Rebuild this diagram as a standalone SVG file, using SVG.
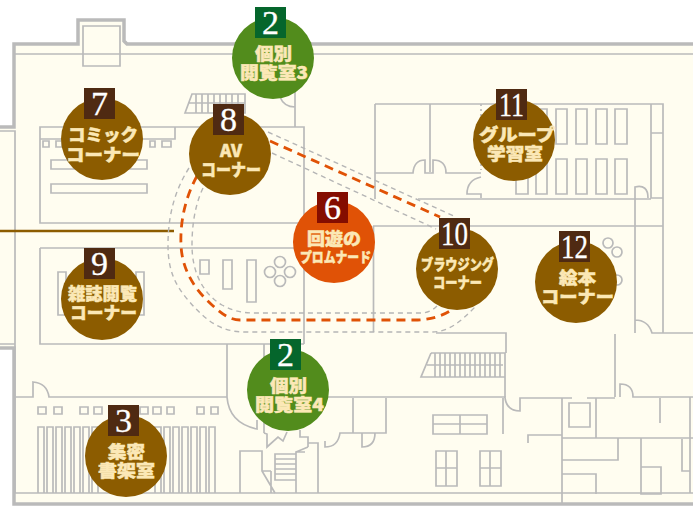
<svg xmlns="http://www.w3.org/2000/svg" width="693" height="507" viewBox="0 0 693 507">
<defs><style>
.w{fill:none;stroke:#bababa;stroke-width:1.7}
.t{fill:none;stroke:#bababa;stroke-width:3.5}
.g{fill:none;stroke:#b5b5b5;stroke-width:1.4;stroke-dasharray:5 4}
.o{fill:none;stroke:#e05206;stroke-width:2.8;stroke-dasharray:9 6}
.l{font-family:"Noto Sans CJK JP","Noto Sans",sans-serif;font-weight:900;font-size:17px;fill:#fbe8b6;stroke:#fbe8b6;stroke-width:.5}
.n{font-family:"Liberation Serif",serif;font-size:34px;fill:#fff;stroke:#fff;stroke-width:.3;text-anchor:middle}
.b{fill:#8c5c00}.bb{fill:#4f2a12}
.gr{fill:#528c1c}.gb{fill:#05662c}
.or{fill:#e05206}.ob{fill:#840d00}
</style></defs>
<rect width="693" height="507" fill="#fff"/>
<path d="M0 127H14V44H78V20H124V44H693V505H14V347H0Z" fill="#fffdf0"/>
<g id="plan">
<path class="t" d="M0 127H14V44H78V20H124V41L127 44H693M693 504H14V348H0"/>
<path class="w" d="M0 131H15V344H0M15 54H693M15 344V493H693M83 26H120V66H83Z"/>
<path class="w" d="M40 127H304V223H40ZM40 139H175V127M295 54V127M295 94V107Q284 107 280 97"/>
<path class="w" d="M43 141h6v6h-6zM56 141h6v6h-6zM150 141h5v6h-5zM162 141h9v6h-9zM51 160h96v9H51zM51 184h96v9H51z"/>
<path class="w" d="M185 113L192 94H245V113H185ZM188 103H245M196 94V113M202 94V113M208 94V113M214 94V113M220 94V113M226 94V113M232 94V113M238 94V113"/>
<path class="w" d="M375 104H663V333M375 104V199M430 104V172M375 173H413Q414 160 425 160V173H433V160Q446 160 446 173H481M481 177Q467 180 467 194H481V198M418 199H651M635 199V187Q648 184 648 198M651 104V198H663M651 133H663"/>
<path class="w" d="M516 109h12v35h-12zM536 109h11v35h-11zM556 109h11v35h-11zM576 109h11v35h-11zM596 109h11v35h-11zM615 109h12v35h-12zM516 159h12v35h-12zM536 159h11v35h-11zM556 159h11v35h-11zM576 159h11v35h-11zM596 159h11v35h-11zM615 159h12v35h-12z"/>
<path class="w" stroke-dasharray="2 3" d="M481 104V170"/>
<path class="w" d="M373 226H663M373.500 226V332M635 199V333M635 333V320Q648 320 652 333H693M615 334V397M620 397V384Q633 384 633 397H693"/>
<path class="w" d="M40 248H304M304 223V331M40 248V344H304M304 331V344M58 272h8v43h-8zM136 272h8v43h-8z"/>
<path class="w" d="M200 260h9v14h-9zM223 260h9v29h-9zM247 260h9v42h-9z"/>
<g class="w"><circle cx="280" cy="262" r="5.500"/><circle cx="270" cy="272" r="5.500"/><circle cx="290" cy="272" r="5.500"/><circle cx="280" cy="281" r="5.500"/><circle cx="608" cy="243" r="5"/><circle cx="617" cy="252" r="5"/><circle cx="617" cy="280" r="5"/></g>
<path class="w" d="M436 333H506V353M431 353H505V377H421L431 353M427 365H503M435 353V377M440 353V377M445 353V377M450 353V377M455 353V377M460 353V377M465 353V377M470 353V377M475 353V377M480 353V377M485 353V377M490 353V377M495 353V377M500 353V377M505 377V397"/>
<path class="w" d="M15 397H33V382Q47 383 49 397H227V344M227 397Q229 423 257 429V420M264 344V433M264 433L267 434V447L278 437L283 441L287 432M300 430V437H308V447M310 397H505V398"/>
<path class="w" d="M240 493V451H262V471L275 493M262 471H271M275 454H296V480H275ZM275 459H296M275 464H296M275 469H296M275 474H296M296 493V452H305M308 447L296 452M308 443H318V493M271 471V493M325 441V447Q338 447 340 433H386V398M353 398V433M362 433V447Q375 447 375 433"/>
<path class="w" d="M433 415H487V434H433ZM433 424H487M460 415V434M436 451H457V486H436ZM436 468H457M446 451V486M480 451H501V486H480ZM480 468H501M490 451V486"/>
<path class="w" d="M505 398Q507 411 520 411V398H572M587 398H615M503 398V434M528 443V435H562M562 398V505M596 398V438M569 403H590V427H569ZM562 438H693M618 438V460H562M562 474H596V494M641 438V494M641 467H661V494H641ZM660 398V423M682 439V471H690M690 397V493"/>
<path class="w" d="M38 407h8v7h-8zM54 407h8v7h-8zM80 407h8v7h-8zM94 407h8v7h-8zM140 407h8v7h-8zM153 407h8v7h-8zM167 407h7v7h-7zM197 407h7v7h-7zM211 407h7v7h-7z"/>
<path class="w" d="M38 493V427h6V493M47 493V427h6V493M56 493V427h6V493M65 493V427h6V493M74 493V427h6V493M83 493V427h6V493M92 493V427h6V493M155 493V427h6V493M164 493V427h6V493M173 493V427h6V493M182 493V427h6V493M191 493V427h6V493M200 493V427h6V493M209 493V427h6V493"/>
</g>
<g id="connectors">
<path d="M0 231H174" fill="none" stroke="#8c5c00" stroke-width="2.500"/>
<path class="g" d="M268 132L456 217M272 153L436 229M189 168C175 190 168 215 168 245C168 270 175 285 188 300C205 320 220 332 245 332H432C450 332 462 320 475 307M203 188C195 205 192 225 192 245C192 275 205 295 222 305C235 312 245 313 255 313H420C428 313 433 310 437 306"/>
<path class="o" d="M270 141L440 217M197 176C185 198 180 222 181 245C182 270 195 290 212 305C222 314 230 320 240 320H415C430 320 443 316 453 309"/>
</g>
<g id="n2a"><circle class="gr" cx="273" cy="58" r="41"/><rect class="gb" x="255" y="7" width="31" height="31"/><text class="n" x="270.500" y="34">2</text><text class="l" x="255" y="60" textLength="37" lengthAdjust="spacingAndGlyphs">個別</text><text class="l" x="240" y="79" textLength="68" lengthAdjust="spacingAndGlyphs">閲覧室3</text></g>
<g id="n7"><circle class="b" cx="102" cy="139" r="41"/><rect class="bb" x="84" y="88" width="31" height="31"/><text class="n" x="99.500" y="115">7</text><text class="l" x="68" y="141" textLength="70" lengthAdjust="spacingAndGlyphs">コミック</text><text class="l" x="66" y="161" textLength="74" lengthAdjust="spacingAndGlyphs">コーナー</text></g>
<g id="n8"><circle class="b" cx="230" cy="154" r="41"/><rect class="bb" x="213" y="104" width="31" height="31"/><text class="n" x="228.500" y="131">8</text><text class="l" x="220" y="157" textLength="22" lengthAdjust="spacingAndGlyphs">AV</text><text class="l" x="201" y="176" textLength="60" lengthAdjust="spacingAndGlyphs">コーナー</text></g>
<g id="n6"><circle class="or" cx="334" cy="242" r="41"/><rect class="ob" x="317" y="192" width="31" height="31"/><text class="n" x="332.500" y="219">6</text><text class="l" x="307" y="245" textLength="54" lengthAdjust="spacingAndGlyphs">回遊の</text><text class="l" x="300" y="262" textLength="71" lengthAdjust="spacingAndGlyphs" style="font-size:14px">プロムナード</text></g>
<g id="n11"><circle class="b" cx="514" cy="140" r="41"/><rect class="bb" x="496" y="89" width="31" height="31"/><text class="n" x="511.500" y="116" textLength="25" lengthAdjust="spacingAndGlyphs">11</text><text class="l" x="479" y="141" textLength="76" lengthAdjust="spacingAndGlyphs">グループ</text><text class="l" x="487" y="160" textLength="56" lengthAdjust="spacingAndGlyphs">学習室</text></g>
<g id="n10"><circle class="b" cx="457" cy="269" r="41"/><rect class="bb" x="439" y="218" width="31" height="31"/><text class="n" x="454.500" y="245" textLength="27" lengthAdjust="spacingAndGlyphs">10</text><text class="l" x="421" y="270" textLength="73" lengthAdjust="spacingAndGlyphs" style="font-size:15px">ブラウジング</text><text class="l" x="433" y="288" textLength="49" lengthAdjust="spacingAndGlyphs" style="font-size:15px">コーナー</text></g>
<g id="n12"><circle class="b" cx="576" cy="282" r="41"/><rect class="bb" x="559" y="231" width="31" height="31"/><text class="n" x="574.500" y="258" textLength="27" lengthAdjust="spacingAndGlyphs">12</text><text class="l" x="559" y="284" textLength="37" lengthAdjust="spacingAndGlyphs">絵本</text><text class="l" x="541" y="303" textLength="73" lengthAdjust="spacingAndGlyphs">コーナー</text></g>
<g id="n9"><circle class="b" cx="102" cy="299" r="41"/><rect class="bb" x="84" y="248" width="31" height="31"/><text class="n" x="99.500" y="275">9</text><text class="l" x="68" y="300" textLength="69" lengthAdjust="spacingAndGlyphs">雑誌閲覧</text><text class="l" x="70" y="319" textLength="67" lengthAdjust="spacingAndGlyphs">コーナー</text></g>
<g id="n2b"><circle class="gr" cx="288" cy="390" r="41"/><rect class="gb" x="270" y="339" width="31" height="31"/><text class="n" x="285.500" y="366">2</text><text class="l" x="270" y="392" textLength="37" lengthAdjust="spacingAndGlyphs">個別</text><text class="l" x="255" y="411" textLength="69" lengthAdjust="spacingAndGlyphs">閲覧室4</text></g>
<g id="n3"><circle class="b" cx="126" cy="456" r="41"/><rect class="bb" x="108" y="405" width="31" height="31"/><text class="n" x="123.500" y="432">3</text><text class="l" x="108" y="458" textLength="37" lengthAdjust="spacingAndGlyphs">集密</text><text class="l" x="98" y="477" textLength="57" lengthAdjust="spacingAndGlyphs">書架室</text></g>
</svg>
